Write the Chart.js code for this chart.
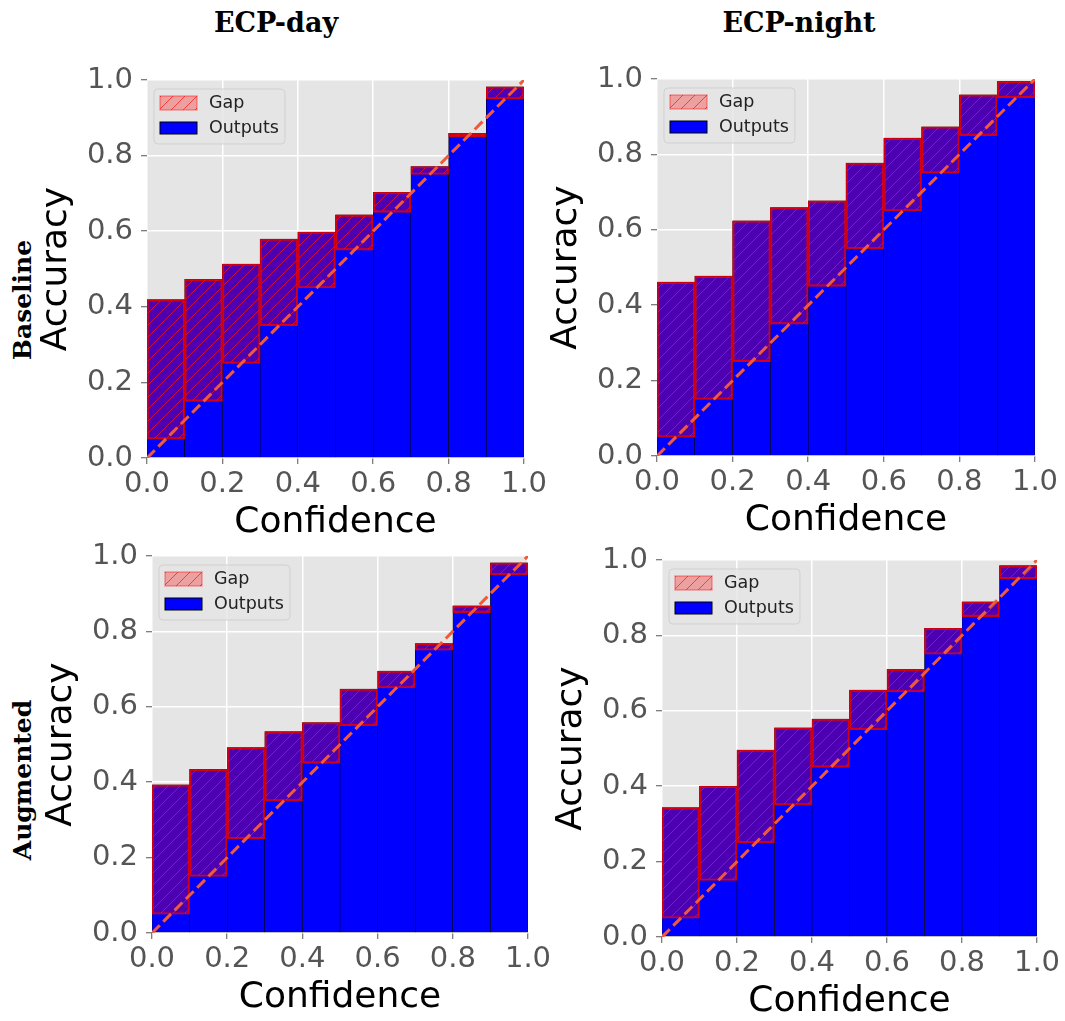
<!DOCTYPE html>
<html lang="en">
<head>
    <meta charset="UTF-8">
    <title>Reliability diagrams ECP</title>
    <script src="https://cdn.jsdelivr.net/npm/chart.js"></script>
    <style>
        body { margin: 0; background: #fff; }
        #page { position: relative; width: 1065px; height: 1021px; overflow: hidden; }
        canvas { position: absolute; }
        .col-title, .row-title {
            position: absolute;
            font-family: "DejaVu Serif", serif;
            font-weight: bold;
            color: #000;
            white-space: nowrap;
            transform: translate(-50%, -50%);
        }
        .col-title { font-size: 27px; }
        .row-title { font-size: 25px; transform: translate(-50%, -50%) rotate(-90deg); }
    </style>
</head>
<body>
<div id="page">
    <div class="col-title" style="left:276px; top:22px;">ECP-day</div>
    <div class="col-title" style="left:799px; top:22px;">ECP-night</div>
    <div class="row-title" style="left:22px; top:300px;">Baseline</div>
    <div class="row-title" style="left:22px; top:780px;">Augmented</div>
    <canvas id="dayBase"></canvas>
    <canvas id="nightBase"></canvas>
    <canvas id="dayAug"></canvas>
    <canvas id="nightAug"></canvas>
</div>

<script>
    // bin centres (confidence) and accuracy per bin
    var binCenters = [0.05, 0.15, 0.25, 0.35, 0.45, 0.55, 0.65, 0.75, 0.85, 0.95];
    var dayBaseline = [0.419, 0.473, 0.513, 0.579, 0.598, 0.643, 0.703, 0.771, 0.859, 0.982];
    var nightBaseline = [0.461, 0.477, 0.624, 0.659, 0.677, 0.777, 0.843, 0.873, 0.958, 0.994];
    var dayAugmented = [0.393, 0.434, 0.492, 0.534, 0.558, 0.647, 0.695, 0.768, 0.868, 0.982];
    var nightAugmented = [0.343, 0.400, 0.496, 0.555, 0.578, 0.655, 0.710, 0.819, 0.889, 0.985];
    var perfectLine = [0, 1];
    var tickValues = [0, 0.2, 0.4, 0.6, 0.8, 1.0];

    var TOP_PAD = 26, RIGHT_PAD = 28, Y_AXIS_W = 112, X_AXIS_H = 86;

    function makeHatch() {
        var s = 12;
        var c = document.createElement('canvas');
        c.width = s; c.height = s;
        var g = c.getContext('2d');
        g.fillStyle = 'rgba(255,0,0,0.3)';
        g.fillRect(0, 0, s, s);
        g.strokeStyle = 'rgba(255,20,20,0.7)';
        g.lineWidth = 1;
        g.beginPath();
        g.moveTo(0, s); g.lineTo(s, 0);
        g.moveTo(-1, 1); g.lineTo(1, -1);
        g.moveTo(s - 1, s + 1); g.lineTo(s + 1, s - 1);
        g.stroke();
        return g.createPattern(c, 'repeat');
    }
    var hatch = makeHatch();

    var plotBackground = {
        id: 'plotBackground',
        beforeDraw: function (chart) {
            var a = chart.chartArea, ctx = chart.ctx;
            ctx.save();
            ctx.fillStyle = '#e5e5e5';
            ctx.fillRect(a.left, a.top, a.width, a.height);
            ctx.restore();
        }
    };

    // matplotlib-like legend inside the axes
    var innerLegend = {
        id: 'innerLegend',
        afterDraw: function (chart) {
            var a = chart.chartArea, ctx = chart.ctx;
            var x = a.left + 7, y = a.top + 9, w = 131, h = 55;
            var sets = chart.data.datasets;
            ctx.save();
            ctx.beginPath();
            ctx.roundRect(x, y, w, h, 4);
            ctx.fillStyle = 'rgba(229,229,229,0.8)';
            ctx.fill();
            ctx.strokeStyle = 'rgba(204,204,204,0.8)';
            ctx.lineWidth = 1;
            ctx.stroke();

            ctx.fillStyle = hatch;
            ctx.fillRect(x + 6, y + 7, 37, 14);
            ctx.strokeStyle = 'rgba(255,0,0,0.35)';
            ctx.lineWidth = 1.5;
            ctx.strokeRect(x + 6, y + 7, 37, 14);

            ctx.fillStyle = '#0000ff';
            ctx.fillRect(x + 6, y + 33, 37, 12);
            ctx.strokeStyle = '#000';
            ctx.lineWidth = 1;
            ctx.strokeRect(x + 6, y + 33, 37, 12);

            ctx.fillStyle = '#222';
            ctx.font = '17.5px "DejaVu Sans"';
            ctx.textBaseline = 'middle';
            ctx.fillText(sets[1].label, x + 55, y + 14);
            ctx.fillText(sets[2].label, x + 55, y + 39);
            ctx.restore();
        }
    };

    function axisOptions(title, pad, fit) {
        return {
            type: 'linear',
            min: 0,
            max: 1,
            offset: false,
            afterBuildTicks: function (axis) {
                axis.ticks = tickValues.map(function (v) { return { value: v }; });
            },
            afterFit: fit,
            grid: { color: '#ffffff', lineWidth: 1.5, offset: false, tickColor: '#555', tickLength: 6, tickWidth: 1 },
            border: { display: false },
            ticks: {
                color: '#555',
                padding: pad,
                font: { family: 'DejaVu Sans', size: 29 },
                callback: function (v) { return v.toFixed(1); }
            },
            title: {
                display: true,
                text: title,
                color: '#000',
                padding: 0,
                font: { family: 'DejaVu Sans', size: 36 }
            }
        };
    }

    function makePanel(id, box, values) {
        var canvas = document.getElementById(id);
        canvas.width = (box.right - box.left) + Y_AXIS_W + RIGHT_PAD;
        canvas.height = (box.bottom - box.top) + TOP_PAD + X_AXIS_H;
        canvas.style.left = (box.left - Y_AXIS_W) + 'px';
        canvas.style.top = (box.top - TOP_PAD) + 'px';

        new Chart(canvas, {
            type: 'bar',
            data: {
                datasets: [
                    {
                        type: 'line',
                        label: 'Perfect',
                        data: perfectLine.map(function (v) { return { x: v, y: v }; }),
                        borderColor: '#f05a3a',
                        borderWidth: 3,
                        borderDash: [11, 5],
                        pointRadius: 0,
                        order: 0
                    },
                    {
                        label: 'Gap',
                        data: binCenters.map(function (c, i) { return { x: c, y: [c, values[i]] }; }),
                        backgroundColor: hatch,
                        borderColor: 'rgba(225,0,0,0.9)',
                        borderWidth: 1.4,
                        borderSkipped: false,
                        grouped: false,
                        barPercentage: 1,
                        categoryPercentage: 1,
                        order: 1
                    },
                    {
                        label: 'Outputs',
                        data: binCenters.map(function (c, i) { return { x: c, y: values[i] }; }),
                        backgroundColor: '#0000ff',
                        borderColor: '#000',
                        borderWidth: 0.6,
                        borderSkipped: false,
                        grouped: false,
                        barPercentage: 1,
                        categoryPercentage: 1,
                        order: 2
                    }
                ]
            },
            options: {
                responsive: false,
                animation: false,
                layout: { padding: { top: TOP_PAD, right: RIGHT_PAD, left: 0, bottom: 0 } },
                plugins: { legend: { display: false }, tooltip: { enabled: false } },
                scales: {
                    x: axisOptions('Confidence', 3, function (s) { s.height = X_AXIS_H; }),
                    y: axisOptions('Accuracy', 8, function (s) { s.width = Y_AXIS_W; })
                }
            },
            plugins: [plotBackground, innerLegend]
        });
    }

    makePanel('dayBase', { left: 147, top: 80, right: 524, bottom: 458 }, dayBaseline);
    makePanel('nightBase', { left: 657, top: 79, right: 1035, bottom: 456 }, nightBaseline);
    makePanel('dayAug', { left: 152, top: 556, right: 528, bottom: 933 }, dayAugmented);
    makePanel('nightAug', { left: 662, top: 560, right: 1037, bottom: 937 }, nightAugmented);
</script>
</body>
</html>
